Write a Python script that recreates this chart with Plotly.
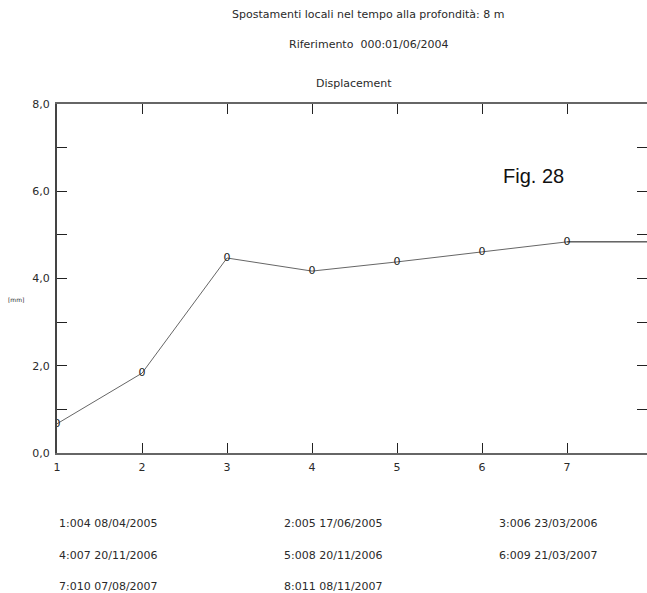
import plotly.graph_objects as go

# Survey steps and local displacement at 8 m depth (mm)
steps = [1, 2, 3, 4, 5, 6, 7, 8]
displacement = [0.67, 1.83, 4.47, 4.17, 4.38, 4.61, 4.84, 4.84]
point_marks = ["0", "0", "0", "0", "0", "0", "0", ""]

y_ticks = [0, 2, 4, 6, 8]
y_tick_labels = ["0,0", "2,0", "4,0", "6,0", "8,0"]

survey_labels = [
    "1:004 08/04/2005", "2:005 17/06/2005", "3:006 23/03/2006",
    "4:007 20/11/2006", "5:008 20/11/2006", "6:009 21/03/2007",
    "7:010 07/08/2007", "8:011 08/11/2007",
]

W, H = 647, 593
L, R, T, B = 57, 0, 104, 140
pw, ph = W - L - R, H - T - B


def px(x):
    return (x - L) / pw


def py(y):
    return (H - B - y) / ph


font = "DejaVu Sans, Verdana, sans-serif"
txt = "#2a2a2a"

fig = go.Figure()
fig.add_trace(go.Scatter(
    x=steps[:7], y=displacement[:7], mode="lines+text",
    text=point_marks[:7], textposition="middle center",
    textfont=dict(family=font, size=11, color="#222"),
    line=dict(color="#666666", width=1), showlegend=False,
))
fig.add_trace(go.Scatter(
    x=steps[6:], y=displacement[6:], mode="lines",
    line=dict(color="#111111", width=1), showlegend=False,
))
# invisible trace that carries the right-hand tick axis
fig.add_trace(go.Scatter(
    x=steps[:1], y=displacement[:1], yaxis="y2", mode="markers",
    marker=dict(opacity=0), showlegend=False, hoverinfo="skip",
))

tick_common = dict(
    ticks="inside", ticklen=10, tickwidth=1, tickcolor="#222",
    showgrid=False, zeroline=False,
    tickfont=dict(family=font, size=11, color=txt),
)

fig.update_layout(
    xaxis=dict(range=[1, 1 + (W - L) / 85.0], tickvals=steps[:7],
               ticktext=[str(s) for s in steps[:7]],
               showline=True, linecolor="#666666", linewidth=2, mirror="ticks",
               ticklabelstandoff=3, **tick_common),
    yaxis=dict(range=[0, 8], tickvals=y_ticks, ticktext=y_tick_labels,
               minor=dict(dtick=1, ticks="inside", ticklen=10,
                          tickcolor="#222", showgrid=False),
               showline=True, linecolor="#444444", linewidth=2,
               ticklabelstandoff=3, **tick_common),
    yaxis2=dict(range=[0, 8], overlaying="y", side="right", anchor="x",
                tickvals=y_ticks, showticklabels=False, showline=False,
                minor=dict(dtick=1, ticks="inside", ticklen=10,
                           tickcolor="#222", showgrid=False),
                **tick_common),
)

ann = []
ann.append(dict(x=px(368), y=py(14), text="Spostamenti locali nel tempo alla profondità: 8 m",
                font=dict(family=font, size=11, color=txt)))
ann.append(dict(x=px(369), y=py(45), text="Riferimento  000:01/06/2004",
                font=dict(family=font, size=11, color=txt)))
ann.append(dict(x=px(354), y=py(84), text="Displacement",
                font=dict(family=font, size=11, color=txt)))
ann.append(dict(x=px(533), y=py(176), text="Fig. 28",
                font=dict(family="Liberation Sans, Arial, sans-serif", size=20, color="#111")))
ann.append(dict(x=px(16), y=py(299), text="[mm]",
                font=dict(family=font, size=6, color=txt)))

col_x = [57, 282, 497]
row_y = [523, 555, 586]
for i, lab in enumerate(survey_labels):
    r, c = divmod(i, 3)
    ann.append(dict(x=px(col_x[c]), y=py(row_y[r]), text=lab, xanchor="left",
                    font=dict(family=font, size=11, color=txt)))

for a in ann:
    a.setdefault("xanchor", "center")
    a.update(xref="paper", yref="paper", yanchor="middle", showarrow=False)

fig.update_layout(
    width=W, height=H, margin=dict(l=L, r=R, t=T, b=B),
    paper_bgcolor="white", plot_bgcolor="white",
    separators=",.", annotations=ann,
)

fig.write_html("out.html")
